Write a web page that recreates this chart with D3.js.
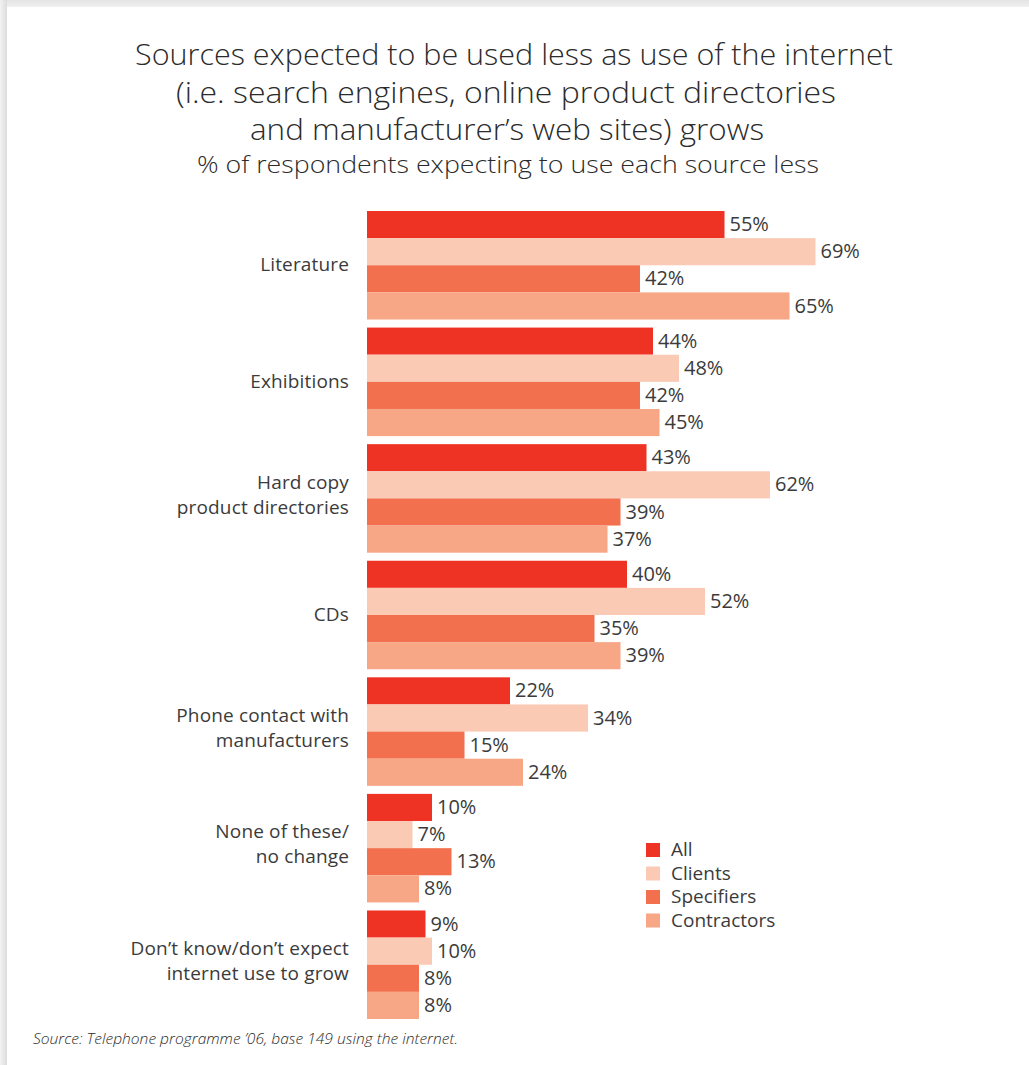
<!DOCTYPE html>
<html>
<head>
<meta charset="utf-8">
<script src="https://cdn.jsdelivr.net/npm/d3@7"></script>
<style>
  html, body { margin: 0; padding: 0; background: #fff; }
  svg { display: block; }
</style>
</head>
<body>
<div id="chart"></div>
<script>
// Survey categories (each may wrap onto two lines)
const categories = [
  ["Literature"],
  ["Exhibitions"],
  ["Hard copy", "product directories"],
  ["CDs"],
  ["Phone contact with", "manufacturers"],
  ["None of these/", "no change"],
  ["Don\u2019t know/don\u2019t expect", "internet use to grow"]
];
const seriesNames = ["All", "Clients", "Specifiers", "Contractors"];
const seriesColors = ["#ee3325", "#facab5", "#f2704e", "#f7a686"];

// Percent of respondents per category, one array per series
const allValues         = [55, 44, 43, 40, 22, 10, 9];
const clientsValues     = [69, 48, 62, 52, 34, 7, 10];
const specifiersValues  = [42, 42, 39, 35, 15, 13, 8];
const contractorsValues = [65, 45, 37, 39, 24, 8, 8];
const seriesValues = [allValues, clientsValues, specifiersValues, contractorsValues];

const titleLines = [
  "Sources expected to be used less as use of the internet",
  "(i.e. search engines, online product directories",
  "and manufacturer\u2019s web sites) grows"
];
const subtitle = "% of respondents expecting to use each source less";
const sourceNote = "Source: Telephone programme \u201906, base 149 using the internet.";

const W = 1029, H = 1065;
const textColor = "#3b3b3b";
const svg = d3.select("#chart").append("svg").attr("width", W).attr("height", H);

// Page edge shading (top and left)
const defs = svg.append("defs");
const gTop = defs.append("linearGradient").attr("id", "shTop").attr("x1", 0).attr("y1", 0).attr("x2", 0).attr("y2", 1);
gTop.append("stop").attr("offset", "0%").attr("stop-color", "#e4e4e4");
gTop.append("stop").attr("offset", "100%").attr("stop-color", "#f0f0f0");
const gLeft = defs.append("linearGradient").attr("id", "shLeft").attr("x1", 0).attr("y1", 0).attr("x2", 1).attr("y2", 0);
gLeft.append("stop").attr("offset", "0%").attr("stop-color", "#f2f2f2");
gLeft.append("stop").attr("offset", "100%").attr("stop-color", "#dcdcdc");
svg.append("rect").attr("x", 0).attr("y", 0).attr("width", W).attr("height", 7).attr("fill", "url(#shTop)");
svg.append("rect").attr("x", 0).attr("y", 0).attr("width", 7).attr("height", H).attr("fill", "url(#shLeft)");

// Title block
const titleFont = "'Open Sans', 'Noto Sans', sans-serif";
const titleSpecs = [
  { text: titleLines[0], x: 514, y: 65, w: 758, size: 29 },
  { text: titleLines[1], x: 506, y: 103, w: 660, size: 29 },
  { text: titleLines[2], x: 507, y: 140, w: 514, size: 29 }
];
titleSpecs.forEach(t => {
  svg.append("text")
    .attr("x", t.x).attr("y", t.y)
    .attr("text-anchor", "middle")
    .attr("font-family", titleFont)
    .attr("font-weight", 300)
    .attr("font-size", t.size)
    .attr("fill", "#2b2b2b")
    .attr("textLength", t.w)
    .attr("lengthAdjust", "spacingAndGlyphs")
    .text(t.text);
});
svg.append("text")
  .attr("x", 508).attr("y", 173)
  .attr("text-anchor", "middle")
  .attr("font-family", titleFont)
  .attr("font-weight", 300)
  .attr("font-size", 24)
  .attr("fill", "#2b2b2b")
  .attr("textLength", 622)
  .attr("lengthAdjust", "spacingAndGlyphs")
  .text(subtitle);

// Scales
const x = d3.scaleLinear().domain([0, 100]).range([367, 1017]);
const y0 = d3.scaleBand().domain(d3.range(categories.length)).range([211, 1019]).paddingInner(0.069).paddingOuter(0);
const y1 = d3.scaleBand().domain(d3.range(seriesNames.length)).range([0, y0.bandwidth()]).padding(0);

const labelFont = "'Open Sans', 'Noto Sans', sans-serif";

const groups = svg.append("g").selectAll("g")
  .data(categories)
  .join("g")
  .attr("transform", (d, i) => `translate(0,${y0(i)})`);

groups.each(function(cat, i) {
  const g = d3.select(this);
  seriesNames.forEach((s, j) => {
    const v = seriesValues[j][i];
    g.append("rect")
      .attr("x", x(0))
      .attr("y", y1(j))
      .attr("width", x(v) - x(0))
      .attr("height", y1.bandwidth())
      .attr("fill", seriesColors[j]);
    g.append("text")
      .attr("x", x(v) + 5)
      .attr("y", y1(j) + y1.bandwidth() / 2)
      .attr("dy", "0.33em")
      .attr("font-family", labelFont)
      .attr("font-size", 20)
      .attr("fill", textColor)
      .text(v + "%");
  });
  // Category label, right-aligned beside the bars
  const cy = y0.bandwidth() / 2 - (cat.length > 1 ? 4 : 1);
  const lh = 25;
  const t = g.append("text")
    .attr("text-anchor", "end")
    .attr("font-family", labelFont)
    .attr("font-size", 19)
    .attr("letter-spacing", 0.15)
    .attr("fill", textColor);
  cat.forEach((line, k) => {
    t.append("tspan")
      .attr("x", 349)
      .attr("y", cy + (k - (cat.length - 1) / 2) * lh)
      .attr("dy", "0.36em")
      .text(line);
  });
});

// Legend
const legend = svg.append("g").attr("transform", "translate(646,843)");
seriesNames.forEach((s, j) => {
  const row = legend.append("g").attr("transform", `translate(0,${j * 23.5})`);
  row.append("rect").attr("width", 14).attr("height", 14).attr("fill", seriesColors[j]);
  row.append("text")
    .attr("x", 25).attr("y", 7).attr("dy", "0.33em")
    .attr("font-family", labelFont)
    .attr("font-size", 19)
    .attr("fill", textColor)
    .text(s);
});

// Source note
svg.append("text")
  .attr("x", 33).attr("y", 1044)
  .attr("font-family", titleFont)
  .attr("font-style", "italic")
  .attr("font-weight", 300)
  .attr("font-size", 15)
  .attr("fill", "#2b2b2b")
  .attr("textLength", 425)
  .attr("lengthAdjust", "spacingAndGlyphs")
  .text(sourceNote);
</script>
</body>
</html>
